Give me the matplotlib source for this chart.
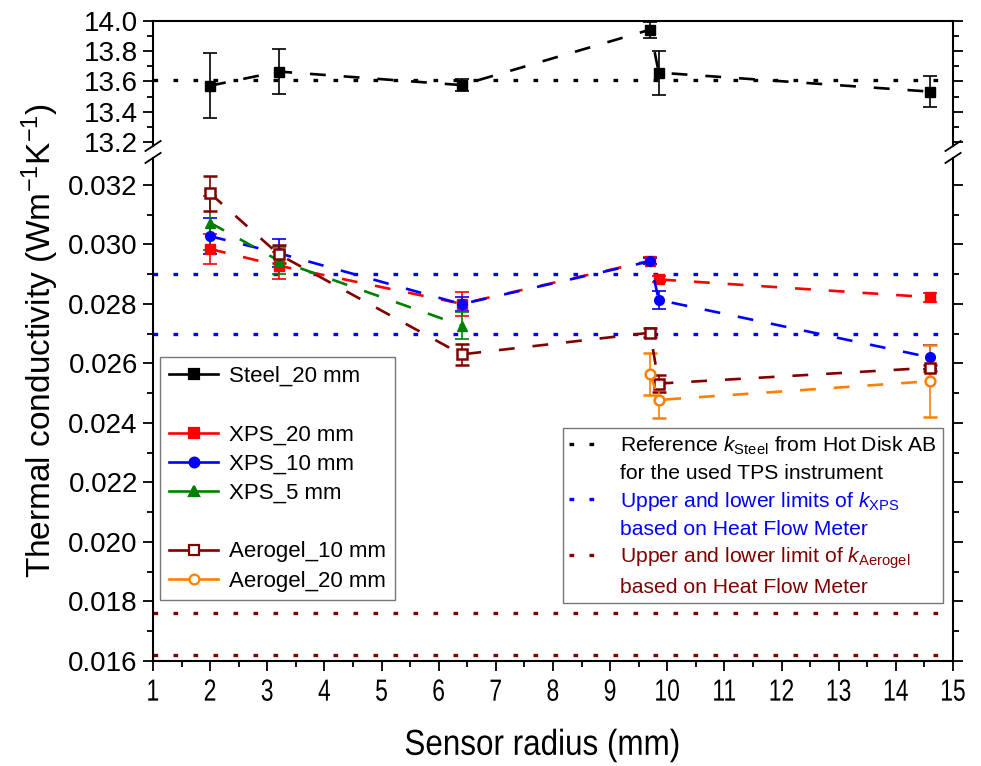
import matplotlib
matplotlib.use("Agg")
import matplotlib.pyplot as plt
from matplotlib.lines import Line2D
from matplotlib.patheffects import AbstractPathEffect
from matplotlib.ticker import MultipleLocator
from matplotlib.transforms import Affine2D

plt.rcParams['font.family'] = ['Liberation Sans', 'DejaVu Sans']
plt.rcParams['mathtext.fontset'] = 'custom'
plt.rcParams['mathtext.rm'] = 'Liberation Sans'
plt.rcParams['mathtext.it'] = 'Liberation Sans:italic'

# ---- data ----
steel_x = [2.0, 3.2, 6.4, 9.7, 9.85, 14.6]
steel_y = [13.572, 13.665, 13.576, 13.941, 13.658, 13.533]
steel_err = [0.212, 0.15, 0.04, 0.053, 0.145, 0.10]
steel_ref = 13.61

xps20_x = [2.0, 3.2, 6.4, 9.7, 9.85, 14.6]
xps20_y = [0.02984, 0.02928, 0.02800, 0.02945, 0.02882, 0.02822]
xps20_err = [0.0005, 0.00045, 0.0004, 0.00012, 0.0001, 0.00015]

xps10_x = [2.0, 3.2, 6.4, 9.7, 9.85, 14.6]
xps10_y = [0.03027, 0.02970, 0.02799, 0.02943, 0.02813, 0.02620]
xps10_err = [0.0006, 0.00047, 0.00023, 0.0001, 0.0003, 0.0004]

xps5_x = [2.0, 3.2, 6.4]
xps5_y = [0.03072, 0.02945, 0.02727]
xps5_err = [0.0009, 0.00045, 0.00045]

aero10_x = [2.0, 3.2, 6.4, 9.7, 9.85, 14.6]
aero10_y = [0.03171, 0.02966, 0.02630, 0.02703, 0.02532, 0.02585]
aero10_err = [0.0006, 0.0003, 0.00035, 0.00015, 0.0003, 0.0001]

aero20_x = [9.7, 9.85, 14.6]
aero20_y = [0.02564, 0.02477, 0.02540]
aero20_err = [0.0007, 0.0006, 0.0012]

xps_limits = [0.029, 0.027]
aero_limits = [0.0176, 0.0162]

RED, BLUE, GREEN, DRED, ORANGE = '#FF0000', '#0000FF', '#008000', '#800000', '#FF8000'
DASH = (0, (6, 6.8))
DOT = (0, (1.4, 4.6))


class Squeeze(AbstractPathEffect):
    """Narrow a text horizontally around its own centre (Arial Narrow look)."""

    def __init__(self, sx):
        super().__init__()
        self.sx = sx

    def draw_path(self, renderer, gc, tpath, affine, rgbFace=None):
        pts = affine.transform(tpath.vertices)
        if len(pts):
            cx = 0.5 * (pts[:, 0].min() + pts[:, 0].max())
            affine = affine + Affine2D().translate(-cx, 0).scale(self.sx, 1).translate(cx, 0)
        renderer.draw_path(gc, tpath, affine, rgbFace)


fig = plt.figure(figsize=(9.81, 7.66), dpi=100)
ax_top = fig.add_axes([0.156, 0.8094, 0.8155, 0.1636])
ax_bot = fig.add_axes([0.156, 0.1371, 0.8155, 0.6567])

eb = dict(lw=1.9, ls=DASH, capsize=5, elinewidth=1.2, capthick=1.2, ms=7)

ax_top.axhline(steel_ref, color='k', ls=DOT, lw=2.4, zorder=1)
ax_top.errorbar(steel_x, steel_y, yerr=steel_err, color='k', marker='s', **eb)

for lim in xps_limits:
    ax_bot.axhline(lim, color=BLUE, ls=DOT, lw=2.4, zorder=1)
for lim in aero_limits:
    ax_bot.axhline(lim, color=DRED, ls=DOT, lw=2.4, zorder=1)

ax_bot.errorbar(xps20_x, xps20_y, yerr=xps20_err, color=RED, marker='s', **eb)
ax_bot.errorbar(xps10_x, xps10_y, yerr=xps10_err, color=BLUE, marker='o', **eb)
ax_bot.errorbar(xps5_x, xps5_y, yerr=xps5_err, color=GREEN, marker='^', **eb)
ax_bot.errorbar(aero10_x, aero10_y, yerr=aero10_err, color=DRED, marker='s',
                mfc='white', mec=DRED, mew=1.8, **eb)
ax_bot.errorbar(aero20_x, aero20_y, yerr=aero20_err, color=ORANGE, marker='o',
                mfc='white', mec=ORANGE, mew=1.8, **eb)

# axes limits / ticks
for ax in (ax_top, ax_bot):
    ax.set_xlim(1, 15)
    ax.tick_params(which='both', direction='out', width=1.3, labelsize=20,
                   right=True, top=False, pad=4)
    ax.tick_params(which='major', length=7)
    ax.tick_params(which='minor', length=4)
    for sp in ax.spines.values():
        sp.set_linewidth(1.5)

ax_top.set_ylim(13.175, 14.0)
ax_top.yaxis.set_major_locator(MultipleLocator(0.2))
ax_top.yaxis.set_minor_locator(MultipleLocator(0.1))
ax_top.yaxis.set_major_formatter(lambda v, p: f"{v:.1f}")
ax_top.spines['bottom'].set_visible(False)
ax_top.tick_params(axis='x', which='both', bottom=False, labelbottom=False)

ax_bot.set_ylim(0.016, 0.0329)
ax_bot.yaxis.set_major_locator(MultipleLocator(0.002))
ax_bot.yaxis.set_minor_locator(MultipleLocator(0.001))
ax_bot.yaxis.set_major_formatter(lambda v, p: f"{v:.3f}")
ax_bot.xaxis.set_major_locator(MultipleLocator(1))
ax_bot.xaxis.set_minor_locator(MultipleLocator(0.5))
ax_bot.spines['top'].set_visible(False)
ax_bot.tick_params(axis='x', labelsize=22, pad=5)
for lab in ax_bot.get_xticklabels():
    lab.set_path_effects([Squeeze(0.75)])

# break marks
dx = 0.0095
for xpos in (0, 1):
    ax_top.plot([xpos - dx, xpos + dx], [-0.04, 0.04], transform=ax_top.transAxes,
                color='k', lw=1.3, clip_on=False)
    ax_bot.plot([xpos - dx, xpos + dx], [1 - 0.01, 1 + 0.01], transform=ax_bot.transAxes,
                color='k', lw=1.3, clip_on=False)

# legend of series
def h(color, marker, filled=True):
    return Line2D([], [], color=color, marker=marker, ls='-', lw=1.9, ms=7,
                  mfc=color if filled else 'white', mec=color, mew=1.6)

blank = Line2D([], [], ls='none')
handles = [h('k', 's'), blank, h(RED, 's'), h(BLUE, 'o'), h(GREEN, '^'), blank,
           h(DRED, 's', False), h(ORANGE, 'o', False)]
labels = ['Steel_20 mm', ' ', 'XPS_20 mm', 'XPS_10 mm', 'XPS_5 mm', ' ',
          'Aerogel_10 mm', 'Aerogel_20 mm']
leg1 = ax_bot.legend(handles, labels, loc='upper left', bbox_to_anchor=(0.009, 0.604),
                     fontsize=16, frameon=True, fancybox=False, edgecolor='#555555',
                     handlelength=2.2, handletextpad=0.5, labelspacing=0.37,
                     borderpad=0.4, borderaxespad=0)
leg1.get_frame().set_linewidth(1.0)
ax_bot.add_artist(leg1)

# legend of reference lines
def d(color):
    return Line2D([], [], color=color, ls=DOT, lw=2.4)

handles2 = [d('k'), blank, d(BLUE), blank, d(DRED), blank]
labels2 = [r'Reference $k_{\mathrm{Steel}}$ from Hot Disk AB',
           'for the used TPS instrument',
           r'Upper and lower limits of $k_{\mathrm{XPS}}$',
           'based on Heat Flow Meter',
           r'Upper and lower limit of $k_{\mathrm{Aerogel}}$',
           'based on Heat Flow Meter']
colors2 = ['k', 'k', BLUE, BLUE, DRED, DRED]
leg2 = ax_bot.legend(handles2, labels2, loc='upper left', bbox_to_anchor=(0.5125, 0.463),
                     fontsize=15.2, frameon=True, fancybox=False, edgecolor='#555555',
                     handlelength=1.9, handletextpad=0.5, labelspacing=0.33,
                     borderpad=0.3, borderaxespad=0)
leg2.get_frame().set_linewidth(1.0)
for txt, c in zip(leg2.get_texts(), colors2):
    txt.set_color(c)

fig.text(0.041, 0.555, r'Thermal conductivity (Wm$^{-1}$K$^{-1}$)', rotation=90,
         ha='center', va='center', fontsize=24)
xl = fig.text(0.553, 0.027, 'Sensor radius (mm)', ha='center', va='center', fontsize=26)
xl.set_path_effects([Squeeze(0.87)])

fig.savefig('out.png', dpi=100)
